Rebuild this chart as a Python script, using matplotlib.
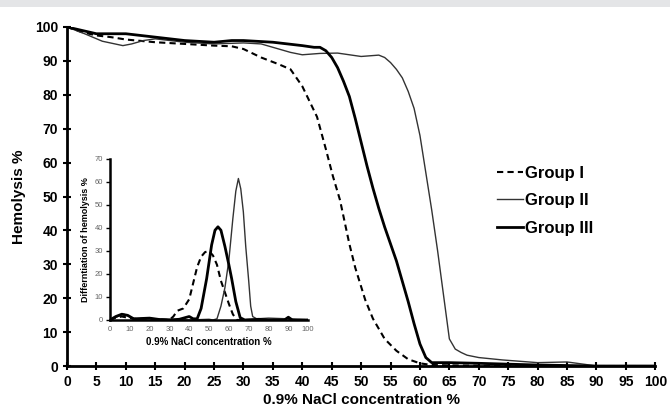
import matplotlib
matplotlib.use("Agg")
import matplotlib.pyplot as plt
from matplotlib.patches import Rectangle

plt.rcParams['font.family'] = ['Liberation Sans', 'DejaVu Sans']

# Main curves: hemolysis % vs 0.9% NaCl concentration %
g1_x = [0, 2.5, 5, 7.5, 10, 15, 20, 25, 28, 30, 33, 36, 38, 40, 42.5, 44, 45.2, 46.4, 48, 49, 50.7, 52, 54, 56, 58, 60, 62, 65, 70, 80, 100]
g1_y = [100, 98.5, 97.5, 97, 96.3, 95.5, 95, 94.5, 94.3, 93.5, 91, 89, 87.5, 82.5, 73.5, 64, 56, 49, 36, 29, 19.5, 14, 8, 4.5, 2, 0.8, 0.3, 0.2, 0.1, 0, 0]

g2_x = [0, 3, 6, 9.5, 11, 13, 15, 20, 25, 30, 33, 35, 38, 40, 43, 46, 50, 53, 54, 55, 56, 57, 58, 59, 60, 61, 62, 63, 64, 65, 66, 67, 68, 70, 74, 80, 85, 88, 90, 100]
g2_y = [100, 98, 95.8, 94.5, 95, 96, 96.5, 95.5, 95, 95.3, 95, 94, 92.5, 91.8, 92.2, 92.3, 91.3, 91.7, 91, 89.5, 87.5, 85, 81, 76, 68, 57, 46, 34, 21, 8, 5, 4, 3.2, 2.5, 1.8, 1, 1.2, 0.5, 0, 0]

g3_x = [0, 5, 10, 15, 20, 25, 28, 30, 35, 40, 42, 43, 44, 45, 46, 47, 48, 49, 50, 51, 52, 53, 54, 55, 56, 57, 58, 59, 60, 61, 62, 65, 70, 80, 90, 100]
g3_y = [100, 98, 98, 97, 96, 95.5, 96, 96, 95.5, 94.5, 94, 94, 93, 91, 88, 84, 79.5, 73, 66, 59, 52.5, 46.5, 41, 36, 31, 25, 19, 12.5, 6.5, 2.5, 1, 1, 0.8, 0.3, 0, 0]

# Inset: differentiation of hemolysis %
d1_x = [0, 3, 6, 9, 12, 20, 25, 30, 32, 34, 37, 40, 42, 44, 46, 48, 50, 52, 54, 56, 58, 60, 62, 64, 70, 100]
d1_y = [0, 1, 1.5, 1, 0.5, 0.5, 0.3, 0, 1.5, 4, 5, 9, 16, 23, 27.5, 29.5, 30, 28, 24, 17, 12, 7, 2.5, 0, 0, 0]

d2_x = [0, 4, 7, 10, 13, 20, 30, 40, 50, 52, 54, 56, 58, 60, 62, 63.5, 64.8, 66, 67.3, 68.5, 70, 71, 72, 74, 80, 90, 100]
d2_y = [0, 1.5, 2.5, 1.5, 0.3, 0.5, 0.3, 0, 0.3, 0, 0.5, 6, 14, 26, 44, 56, 61.5, 57, 47, 32, 17, 6, 1.5, 0.5, 0.8, 0.5, 0]

d3_x = [0, 3, 6, 9, 12, 20, 25, 30, 35, 40, 42, 44, 46, 48.8, 51.3, 53, 54.5, 56, 58, 60, 61.4, 63.5, 65.7, 68, 75, 80, 88, 90, 92, 100]
d3_y = [0, 1.5, 2.5, 2, 0.5, 0.8, 0.2, 0, 0.3, 1.5, 0.5, 0.5, 5, 18, 32.6, 39, 40.5, 39, 32, 24, 18, 8, 1, 0, 0.3, 0, 0, 1.2, 0, 0]

fig = plt.figure(figsize=(6.70, 4.15), dpi=100)
fig.patches.append(Rectangle((0, 0.983), 1, 0.017, transform=fig.transFigure,
                             facecolor='#e4e5e7', edgecolor='none'))

ax = fig.add_axes([0.100, 0.118, 0.878, 0.817])
ax.plot(g1_x, g1_y, color='black', lw=1.5, ls=(0, (3, 2)), label='Group I')
ax.plot(g2_x, g2_y, color='#333333', lw=1.0, label='Group II')
ax.plot(g3_x, g3_y, color='black', lw=2.0, label='Group III')

ax.set_xlim(0, 100)
ax.set_ylim(0, 100)
ax.set_xticks(range(0, 101, 5))
ax.set_yticks(range(0, 101, 10))
for s in ['top', 'right']:
    ax.spines[s].set_visible(False)
for s in ['left', 'bottom']:
    ax.spines[s].set_linewidth(2)
ax.tick_params(direction='inout', length=6, width=1.5, labelsize=10)
for lab in ax.get_xticklabels() + ax.get_yticklabels():
    lab.set_fontweight('bold')
ax.set_xlabel('0.9% NaCl concentration %', fontsize=11, fontweight='bold', labelpad=3)
ax.set_ylabel('Hemolysis %', fontsize=11, fontweight='bold', labelpad=6)

ax.legend(loc='upper left', bbox_to_anchor=(0.705, 0.635), frameon=False,
          handlelength=1.6, handletextpad=0.1, labelspacing=0.75,
          prop={'size': 12, 'weight': 'bold'})

# Inset
ins = fig.add_axes([0.164, 0.229, 0.296, 0.388])
ins.set_facecolor('none')
ins.plot(d1_x, d1_y, color='black', lw=1.5, ls=(0, (3, 2)))
ins.plot(d2_x, d2_y, color='#333333', lw=1.0)
ins.plot(d3_x, d3_y, color='black', lw=2.0)
ins.set_xlim(0, 100)
ins.set_ylim(0, 70)
ins.set_xticks(range(0, 101, 10))
ins.set_yticks(range(0, 71, 10))
for s in ['top', 'right']:
    ins.spines[s].set_visible(False)
for s in ['left', 'bottom']:
    ins.spines[s].set_linewidth(1.8)
ins.tick_params(axis='y', direction='out', length=3, width=1, labelsize=5.5, labelcolor='#666666', pad=2)
ins.tick_params(axis='x', length=0, labelsize=5.5, labelcolor='#666666', pad=4)
ins.set_xlabel('0.9% NaCl concentration %', fontsize=7, fontweight='bold', labelpad=3)
ins.set_ylabel('Differntiation of hemolysis %', fontsize=6.5, fontweight='bold', labelpad=3)

fig.savefig('out.png', dpi=100)
